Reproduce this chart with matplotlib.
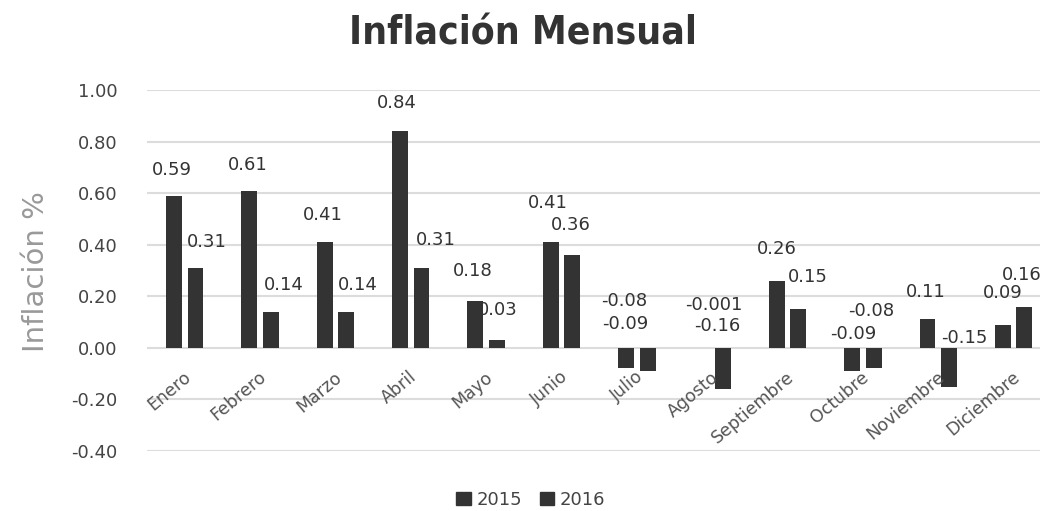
import matplotlib.pyplot as plt
import matplotlib.patches as mpatches
import numpy as np

meses = ["Enero", "Febrero", "Marzo", "Abril", "Mayo", "Junio", "Julio",
         "Agosto", "Septiembre", "Octubre", "Noviembre", "Diciembre"]
inf_2015 = [0.59, 0.61, 0.41, 0.84, 0.18, 0.41, -0.08, -0.001, 0.26, -0.09, 0.11, 0.09]
inf_2016 = [0.31, 0.14, 0.14, 0.31, 0.03, 0.36, -0.09, -0.16, 0.15, -0.08, -0.15, 0.16]
etiq_2015 = ["0.59", "0.61", "0.41", "0.84", "0.18", "0.41", "-0.08", "-0.001", "0.26", "-0.09", "0.11", "0.09"]
etiq_2016 = ["0.31", "0.14", "0.14", "0.31", "0.03", "0.36", "-0.09", "-0.16", "0.15", "-0.08", "-0.15", "0.16"]
yticks = [-0.4, -0.2, 0.0, 0.2, 0.4, 0.6, 0.8, 1.0]

# label offsets in pixels (as placed in the original)
off_2015 = [(-2, 26), (-2, 26), (-2, 27), (-3, 28), (-3, 30), (-3, 39),
            (-2, 47), (12, 43), (0, 32), (1, 14), (-2, 27), (0, 32)]
off_2016 = [(11, 26), (13, 27), (12, 27), (14, 28), (1, 30), (-1, 30),
            (-22, 24), (-6, 22), (9, 32), (-2, 37), (15, 10), (-3, 32)]

barra = "#333333"
gris_txt = "#444444"

fig = plt.figure(figsize=(10.51, 5.11), dpi=100)
ax = fig.add_axes([147 / 1051, 60 / 511, 893 / 1051, 361 / 511])

x = np.arange(len(meses))
w = 0.21
d = 0.143
ax.bar(x - d, inf_2015, w, color=barra, zorder=3)
ax.bar(x + d, inf_2016, w, color=barra, zorder=3)

ax.set_xlim(-0.5, 11.35)
ax.set_ylim(-0.4, 1.0)
ax.set_yticks(yticks)
ax.set_yticklabels([f"{v:.2f}" for v in yticks], fontsize=13, color=gris_txt)
ax.tick_params(axis="y", length=0, pad=21)
ax.set_xticks([])
ax.grid(axis="y", color="#dcdcdc", linewidth=1.5, zorder=0)
for s in ax.spines.values():
    s.set_visible(False)

for i in range(len(meses)):
    dx, dy = off_2015[i]
    ax.annotate(etiq_2015[i], (x[i] - d, max(inf_2015[i], 0)), xytext=(dx, dy),
                textcoords="offset pixels", ha="center", va="center",
                fontsize=13, color="#333333", zorder=4)
    dx, dy = off_2016[i]
    ax.annotate(etiq_2016[i], (x[i] + d, max(inf_2016[i], 0)), xytext=(dx, dy),
                textcoords="offset pixels", ha="center", va="center",
                fontsize=13, color="#333333", zorder=4)
    ax.annotate(meses[i], (x[i], 0), xytext=(4, -27), textcoords="offset pixels",
                ha="right", va="center", rotation=40, rotation_mode="anchor",
                fontsize=12.5, color="#555555")

fig.text(0.4976, 0.935, "Inflación Mensual", ha="center", va="center",
         fontsize=28, fontweight="bold", color="#333333",
         family=["Liberation Sans Narrow", "DejaVu Sans"], fontstretch="condensed")
fig.text(0.034, 0.468, "Inflación %", rotation=90, ha="center", va="center",
         fontsize=21, color="#999999",
         family=["Liberation Sans Narrow", "DejaVu Sans"])

handles = [mpatches.Patch(color=barra, label="2015"),
           mpatches.Patch(color=barra, label="2016")]
fig.legend(handles=handles, loc="center", bbox_to_anchor=(0.505, 0.022), ncol=2,
           frameon=False, fontsize=13, handlelength=0.8, handleheight=0.8,
           handletextpad=0.3, columnspacing=1.0, labelcolor=gris_txt)

fig.savefig("out.png", dpi=100)
